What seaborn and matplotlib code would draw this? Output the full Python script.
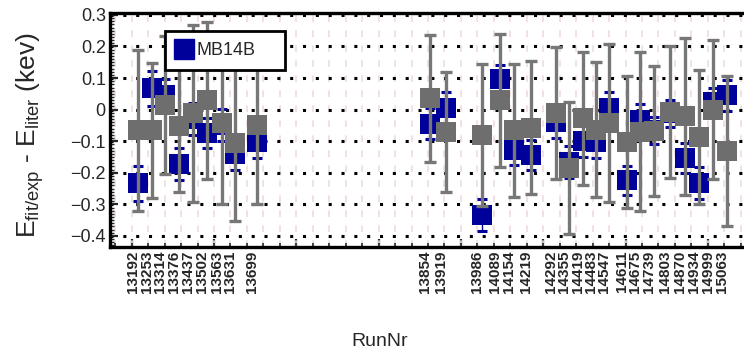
import numpy as np
import pandas as pd
import matplotlib
matplotlib.use("Agg")
import matplotlib.pyplot as plt
import seaborn as sns
from matplotlib.ticker import MultipleLocator, FuncFormatter
from matplotlib.lines import Line2D
import matplotlib.transforms as mtransforms

# ---------------- data ----------------
runs = [13192, 13253, 13314, 13376, 13437, 13502, 13563, 13631, 13699,
        13854, 13919, 13986, 14089, 14154, 14219,
        14292, 14355, 14419, 14483, 14547, 14611, 14675, 14739, 14803,
        14870, 14934, 14999, 15063]
# position of each run on the (unlabelled) numeric run axis
run_pos = [0.40, 1.22, 2.02, 2.87, 3.71, 4.59, 5.47, 6.28, 7.59,
           18.12, 19.08, 21.26, 22.38, 23.23, 24.24,
           25.78, 26.59, 27.40, 28.21, 29.02, 30.07, 30.88, 31.73, 32.70,
           33.61, 34.46, 35.30, 36.15]
mb14b_val = [-0.233, 0.068, 0.046, -0.173, -0.030, -0.074, -0.048, -0.140, -0.104,
             -0.044, 0.005, -0.333, 0.097, -0.129, -0.144,
             -0.040, -0.166, -0.100, -0.104, 0.005, -0.224, -0.032, -0.065, -0.012,
             -0.153, -0.233, 0.025, 0.046]
mb14b_err = [0.055, 0.055, 0.050, 0.050, 0.050, 0.048, 0.050, 0.050, 0.050,
             0.050, 0.050, 0.050, 0.045, 0.045, 0.048,
             0.050, 0.050, 0.050, 0.050, 0.050, 0.046, 0.050, 0.043, 0.044,
             0.048, 0.050, 0.045, 0.049]
ref_val = [-0.066, -0.066, 0.015, -0.052, -0.012, 0.029, -0.041, -0.107, -0.049,
           0.036, -0.071, -0.079, 0.029, -0.066, -0.057,
           -0.011, -0.185, -0.028, -0.063, -0.043, -0.102, -0.070, -0.069, -0.008,
           -0.021, -0.087, 0.000, -0.131]
ref_err = [0.255, 0.215, 0.218, 0.210, 0.280, 0.250, 0.257, 0.245, 0.250,
           0.201, 0.190, 0.225, 0.210, 0.210, 0.210,
           0.210, 0.210, 0.210, 0.214, 0.250, 0.210, 0.252, 0.206, 0.210,
           0.249, 0.211, 0.221, 0.239]
legend_label = "MB14B"
y_ticks = [-0.4, -0.3, -0.2, -0.1, 0.0, 0.1, 0.2, 0.3]

df_mb = pd.DataFrame({"pos": run_pos, "val": mb14b_val, "err": mb14b_err})
df_ref = pd.DataFrame({"pos": run_pos, "val": ref_val, "err": ref_err})

# ---------------- style ----------------
sns.set_theme(style="white")
plt.rcParams["font.family"] = ["Liberation Sans", "DejaVu Sans"]
plt.rcParams["axes.unicode_minus"] = True

BLUE = "#00009b"
GREY = "#6e6e6e"
GREYBAR = "#777777"

fig = plt.figure(figsize=(7.44, 3.59), dpi=100)
W, H = 744, 359
left, right, top, bottom = 110, 752, 13, 246.7
ax = fig.add_axes([left / W, 1 - bottom / H, (right - left) / W, (bottom - top) / H])

# blue series
ax.errorbar(df_mb["pos"], df_mb["val"], yerr=df_mb["err"], fmt="none",
            ecolor=BLUE, elinewidth=1.0, capsize=3.5, capthick=2.2, zorder=2)
sns.scatterplot(data=df_mb, x="pos", y="val", marker="s", s=228, color=BLUE,
                linewidth=0, ax=ax, zorder=3, legend=False)
# grey series
ax.errorbar(df_ref["pos"], df_ref["val"], yerr=df_ref["err"], fmt="none",
            ecolor=GREYBAR, elinewidth=2.4, capsize=4.5, capthick=2.4, zorder=4)
sns.scatterplot(data=df_ref, x="pos", y="val", marker="s", s=228, color=GREY,
                linewidth=0, ax=ax, zorder=5, legend=False)

# axes limits
x0 = (left - 131.7) / 16.46
x1 = (right - 131.7) / 16.46
ax.set_xlim(x0, x1)
ax.set_ylim(-0.434, 0.306)

# y axis
ax.set_yticks(y_ticks)
ax.yaxis.set_minor_locator(MultipleLocator(0.01))
ax.yaxis.set_major_formatter(FuncFormatter(
    lambda v, p: "0" if abs(v) < 1e-9 else ("\u2212" if v < 0 else "") + f"{abs(v):.1f}"))
ax.tick_params(axis="y", which="major", direction="in", length=6, width=1.6,
               labelsize=13, pad=3, left=True)
ax.tick_params(axis="y", which="minor", direction="in", length=3, width=1.0, left=True)

# x axis: run labels
ax.set_xticks(run_pos)
ax.set_xticklabels([str(r) for r in runs], rotation=90, fontweight="bold", fontsize=11)
ax.tick_params(axis="x", which="major", length=0, pad=3)
offset = mtransforms.ScaledTranslation(-5 / 100, 0, fig.dpi_scale_trans)
for lab in ax.get_xticklabels():
    lab.set_transform(lab.get_transform() + offset)
ax.xaxis.set_minor_locator(MultipleLocator(1))
ax.tick_params(axis="x", which="minor", direction="in", length=3, width=1.2, bottom=True)

sec = ax.secondary_xaxis("bottom")
sec.xaxis.set_major_locator(MultipleLocator(5))
sec.tick_params(axis="x", which="major", direction="in", length=6, width=1.6, labelbottom=False)
sec.xaxis.set_minor_locator(MultipleLocator(1000))
sec.spines["bottom"].set_visible(False)

# grids
ax.grid(False)
ax.grid(axis="y", which="major", color="black", linestyle=(0, (1, 3.2)), linewidth=2.2, zorder=0)
ax.grid(axis="x", which="minor", color="#f0dcdc", linestyle=(0, (4, 5)), linewidth=1.2, zorder=0)
ax.set_axisbelow(True)

for s in ax.spines.values():
    s.set_linewidth(2.4)
    s.set_color("black")

ax.set_xlabel("")
ax.set_ylabel("")

# legend
handle = Line2D([], [], marker="s", linestyle="", color=BLUE, markersize=15)
leg = fig.legend([handle], [legend_label], loc="upper left", mode="expand",
                 bbox_to_anchor=(165 / W, 1 - 72 / H, 120 / W, 41 / H),
                 fontsize=13, frameon=True, fancybox=False, framealpha=1,
                 edgecolor="black", handlelength=0.9, handletextpad=0.25,
                 borderpad=0.6, borderaxespad=0)
leg.get_frame().set_linewidth(2.0)

fig.text(30 / W, 1 - 135 / H, r"E$_{\mathregular{fit/exp}}$ - E$_{\mathregular{liter}}$ (kev)",
         rotation=90, ha="center", va="center", fontsize=19)
fig.text(380 / W, 1 - 341 / H, "RunNr", ha="center", va="center", fontsize=14)

fig.savefig("out.png", dpi=100)
